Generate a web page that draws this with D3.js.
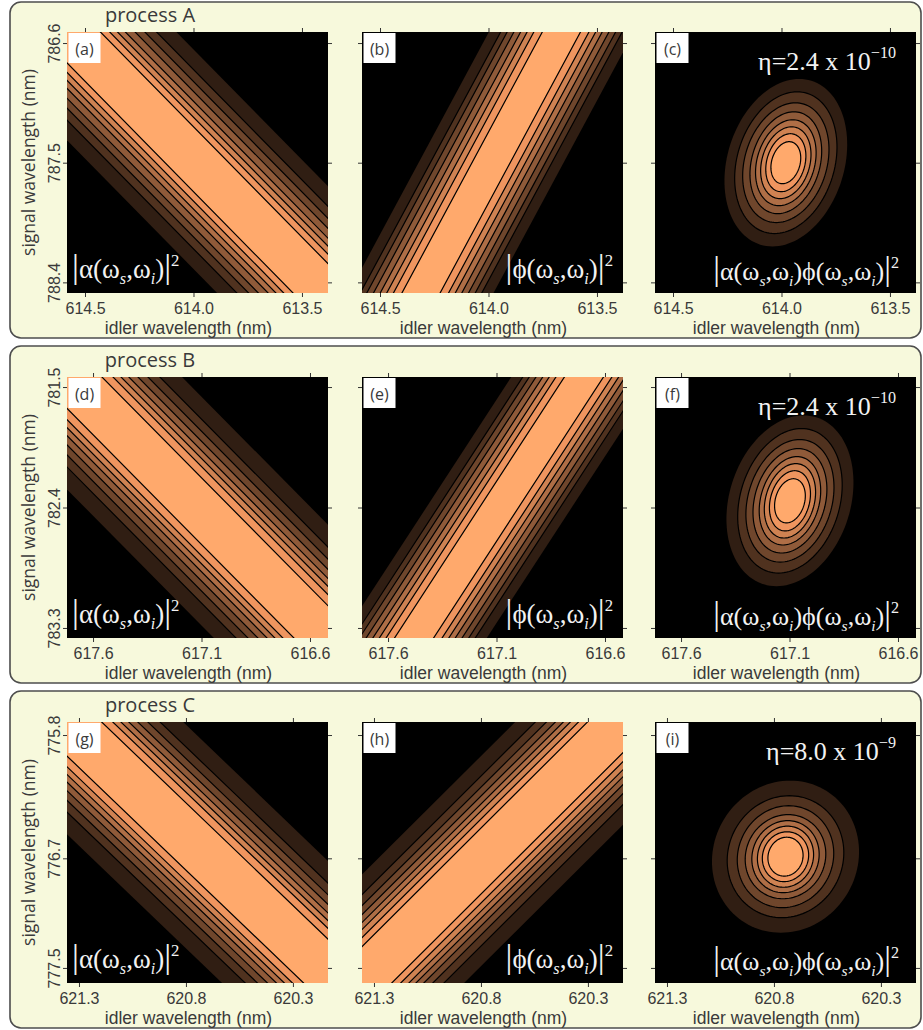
<!DOCTYPE html>
<html><head><meta charset="utf-8">
<script src="https://cdn.jsdelivr.net/npm/d3@7"></script>
<style>body{margin:0;background:#fff}svg{display:block}</style>
</head><body><svg id="c" width="923" height="1030"></svg>
<script>
// ---------------- data ----------------
const processNames = ["process A", "process B", "process C"];
const panelTags = [["(a)", "(b)", "(c)"], ["(d)", "(e)", "(f)"], ["(g)", "(h)", "(i)"]];
const idlerDomains = [[614.583, 613.38], [617.72, 616.517], [621.356, 620.136]];
const signalDomains = [[786.517, 788.48], [781.425, 783.375], [775.705, 777.61]];
const idlerTicks = [[614.5, 614.0, 613.5], [617.6, 617.1, 616.6], [621.3, 620.8, 620.3]];
const signalTicks = [[786.6, 787.5, 788.4], [781.5, 782.4, 783.3], [775.8, 776.7, 777.5]];
const etaMantissa = ["2.4", "2.4", "8.0"];
const etaExponent = ["\u221210", "\u221210", "\u22129"];
const contourLevels = [0.1, 0.2, 0.3, 0.4, 0.5, 0.6, 0.7, 0.8];

// |alpha|^2 stripes: centre line (idler, signal) end points, half widths (idler nm) per level
const alphaCenterLines = [
  [[614.576, 786.517], [613.394, 788.48]],
  [[617.711, 781.425], [616.522, 783.375]],
  [[621.358, 775.705], [620.086, 777.61]]
];
const alphaHalfWidths = [
  [0.497, 0.406, 0.352, 0.307, 0.262, 0.226, 0.190, 0.147],
  [0.521, 0.419, 0.364, 0.318, 0.276, 0.240, 0.203, 0.152],
  [0.545, 0.437, 0.380, 0.333, 0.291, 0.254, 0.216, 0.164]
];
// |phi|^2 stripes
const phiCenterLines = [
  [[613.664, 786.517], [614.311, 788.48]],
  [[616.697, 781.425], [617.48, 783.375]],
  [[620.147, 775.705], [621.372, 777.61]]
];
const phiHalfWidths = [
  [0.334, 0.280, 0.250, 0.219, 0.188, 0.158, 0.127, 0.088],
  [0.335, 0.282, 0.252, 0.221, 0.190, 0.160, 0.129, 0.090],
  [0.493, 0.399, 0.347, 0.305, 0.268, 0.235, 0.197, 0.155]
];
// joint |alpha phi|^2 ellipses: centre, half extents (idler nm, signal nm), tilt (idler nm per signal nm)
const jointCenters = [[613.98, 787.50], [617.098, 782.35], [620.746, 776.688]];
const jointRx = [
  [0.276, 0.230, 0.194, 0.161, 0.136, 0.113, 0.090, 0.067],
  [0.286, 0.235, 0.198, 0.166, 0.138, 0.115, 0.092, 0.069],
  [0.343, 0.272, 0.225, 0.188, 0.157, 0.131, 0.108, 0.082]
];
const jointRy = [
  [0.630, 0.533, 0.450, 0.383, 0.323, 0.270, 0.218, 0.158],
  [0.638, 0.540, 0.458, 0.390, 0.330, 0.278, 0.225, 0.165],
  [0.555, 0.445, 0.372, 0.307, 0.263, 0.223, 0.182, 0.142]
];
const jointTilt = [0.098, 0.098, 0.04];

// ---------------- styles / layout ----------------
const levelColors = ["#301e13", "#50321f", "#6f462c", "#8f5a39", "#af6e46", "#cf8252", "#ef955f", "#ffa96c"];
const colX = [67, 362, 655];
const rowY = [32, 377, 722];
const plotW = 261, plotH = 261;
const boxTop = [2, 346, 691], boxBottom = [338, 683, 1028];
const sans = "'Open Sans', 'Noto Sans', sans-serif";
const tickFont = "'Liberation Sans', Arial, sans-serif";
const serif = "'Liberation Serif', 'DejaVu Serif', serif";
const textGray = "#3a3a3a";
const fmt = d3.format(".1f");

const svg = d3.select("#c");
const defs = svg.append("defs");

// row frames
for (let r = 0; r < 3; r++) {
  svg.append("rect").attr("x", 10).attr("y", boxTop[r]).attr("width", 911)
    .attr("height", boxBottom[r] - boxTop[r]).attr("rx", 11).attr("ry", 11)
    .attr("fill", "#f7f9dc").attr("stroke", "#4d4d4d").attr("stroke-width", 1.6);
  svg.append("text").attr("x", 150).attr("y", rowY[r] - 10).attr("text-anchor", "middle")
    .attr("font-family", sans).attr("font-size", 20).attr("fill", textGray).text(processNames[r]);
}

function formula(g, parts, x, y, anchor, size) {
  const t = g.append("text").attr("x", x).attr("y", y).attr("text-anchor", anchor)
    .attr("font-family", serif).attr("font-size", size).attr("fill", "#f2f2f2");
  let shift = 0;
  parts.forEach(([s, kind]) => {
    const sp = t.append("tspan").text(s);
    let target = 0;
    if (kind === "bar") { sp.attr("font-size", size * 1.28).attr("font-weight", 100); }
    else if (kind === "sub") { sp.attr("font-size", size * 0.6).attr("font-style", "italic"); target = size * 0.24; }
    else if (kind === "sup") { sp.attr("font-size", size * 0.62); target = -size * 0.45; }
    sp.attr("dy", target - shift);
    shift = target;
  });
}
const alphaParts = [["|", "bar"], ["\u03b1(\u03c9", ""], ["s", "sub"], [",\u03c9", ""], ["i", "sub"], [")", ""], ["|", "bar"], ["2", "sup"]];
const phiParts = [["|", "bar"], ["\u03d5(\u03c9", ""], ["s", "sub"], [",\u03c9", ""], ["i", "sub"], [")", ""], ["|", "bar"], ["2", "sup"]];
const jointParts = [["|", "bar"], ["\u03b1(\u03c9", ""], ["s", "sub"], [",\u03c9", ""], ["i", "sub"], [")\u03d5(\u03c9", ""], ["s", "sub"], [",\u03c9", ""], ["i", "sub"], [")", ""], ["|", "bar"], ["2", "sup"]];

for (let r = 0; r < 3; r++) {
  for (let c = 0; c < 3; c++) {
    const g = svg.append("g").attr("transform", `translate(${colX[c]},${rowY[r]})`);
    const x = d3.scaleLinear().domain(idlerDomains[r]).range([0, plotW]);
    const y = d3.scaleLinear().domain(signalDomains[r]).range([0, plotH]);
    const clipId = `clip${r}${c}`;
    defs.append("clipPath").attr("id", clipId).append("rect").attr("width", plotW).attr("height", plotH);
    g.append("rect").attr("width", plotW).attr("height", plotH).attr("fill", "#000");
    const cg = g.append("g").attr("clip-path", `url(#${clipId})`);
    const line = d3.line().x(d => x(d[0])).y(d => y(d[1]));
    const closedLine = d3.line().x(d => x(d[0])).y(d => y(d[1])).curve(d3.curveLinearClosed);

    if (c < 2) {
      const [p1, p2] = (c === 0 ? alphaCenterLines : phiCenterLines)[r];
      const widths = (c === 0 ? alphaHalfWidths : phiHalfWidths)[r];
      const dx = p2[0] - p1[0], dy = p2[1] - p1[1];
      const e1 = [p1[0] - dx, p1[1] - dy], e2 = [p2[0] + dx, p2[1] + dy];
      contourLevels.forEach((lv, k) => {
        const w = widths[k];
        const poly = [[e1[0] - w, e1[1]], [e1[0] + w, e1[1]], [e2[0] + w, e2[1]], [e2[0] - w, e2[1]]];
        cg.append("path").attr("d", closedLine(poly)).attr("fill", levelColors[k])
          .attr("stroke", k === 0 ? "none" : "#000").attr("stroke-width", 1.2);
      });
    } else {
      const [cx, cy] = jointCenters[r];
      const kt = jointTilt[r];
      contourLevels.forEach((lv, k) => {
        const rx = jointRx[r][k], ry = jointRy[r][k];
        const pts = d3.range(0, 360, 3).map(a => {
          const t = a * Math.PI / 180;
          return [cx + rx * Math.cos(t) + kt * ry * Math.sin(t), cy + ry * Math.sin(t)];
        });
        cg.append("path").attr("d", closedLine(pts)).attr("fill", levelColors[k])
          .attr("stroke", k === 0 ? "none" : "#000").attr("stroke-width", 1.2);
      });
    }

    // panel tag
    g.append("rect").attr("x", 1.5).attr("y", 1).attr("width", 32).attr("height", 30).attr("fill", "#fff");
    g.append("text").attr("x", 17.5).attr("y", 23).attr("text-anchor", "middle").attr("font-family", sans)
      .attr("font-size", 16).attr("fill", textGray).text(panelTags[r][c]);

    // formula labels
    if (c === 0) formula(g, alphaParts, 5, plotH - 15, "start", 27);
    if (c === 1) formula(g, phiParts, plotW - 10, plotH - 15, "end", 27);
    if (c === 2) {
      formula(g, jointParts, plotW - 17, plotH - 13, "end", 26);
      formula(g, [["\u03b7=" + etaMantissa[r] + " x 10", ""], [etaExponent[r], "sup"]], plotW - 20, 38, "end", 26);
    }

    // axes (ticks outward on all four sides)
    const axB = g.append("g").attr("transform", `translate(0,${plotH})`)
      .call(d3.axisBottom(x).tickValues(idlerTicks[r]).tickSize(4).tickFormat(fmt));
    axB.selectAll("text").attr("y", 21).attr("dy", 0).attr("font-family", tickFont).attr("font-size", 16).attr("fill", textGray);
    const axT = g.append("g").call(d3.axisTop(x).tickValues(idlerTicks[r]).tickSize(4).tickFormat(""));
    const axL = g.append("g").call(d3.axisLeft(y).tickValues(signalTicks[r]).tickSize(4).tickFormat(c === 0 ? fmt : ""));
    axL.selectAll("text").attr("transform", "rotate(-90)").attr("x", 0).attr("y", -7).attr("dy", 0)
      .attr("text-anchor", "middle").attr("font-family", tickFont).attr("font-size", 16).attr("fill", textGray);
    const axR = g.append("g").attr("transform", `translate(${plotW},0)`)
      .call(d3.axisRight(y).tickValues(signalTicks[r]).tickSize(4).tickFormat(""));
    [axB, axT, axL, axR].forEach(a => {
      a.select(".domain").remove();
      a.selectAll(".tick line").attr("stroke", "#333").attr("stroke-width", 1);
    });

    g.append("text").attr("x", plotW / 2 - 9).attr("y", plotH + 40.5).attr("text-anchor", "middle")
      .attr("font-family", tickFont).attr("font-size", 17.5).attr("fill", textGray).text("idler wavelength (nm)");
    if (c === 0) {
      g.append("text").attr("transform", `translate(-32,${plotH / 2}) rotate(-90)`).attr("text-anchor", "middle")
        .attr("font-family", sans).attr("font-size", 17.5).attr("fill", textGray).text("signal wavelength (nm)");
    }
  }
}
</script></body></html>
